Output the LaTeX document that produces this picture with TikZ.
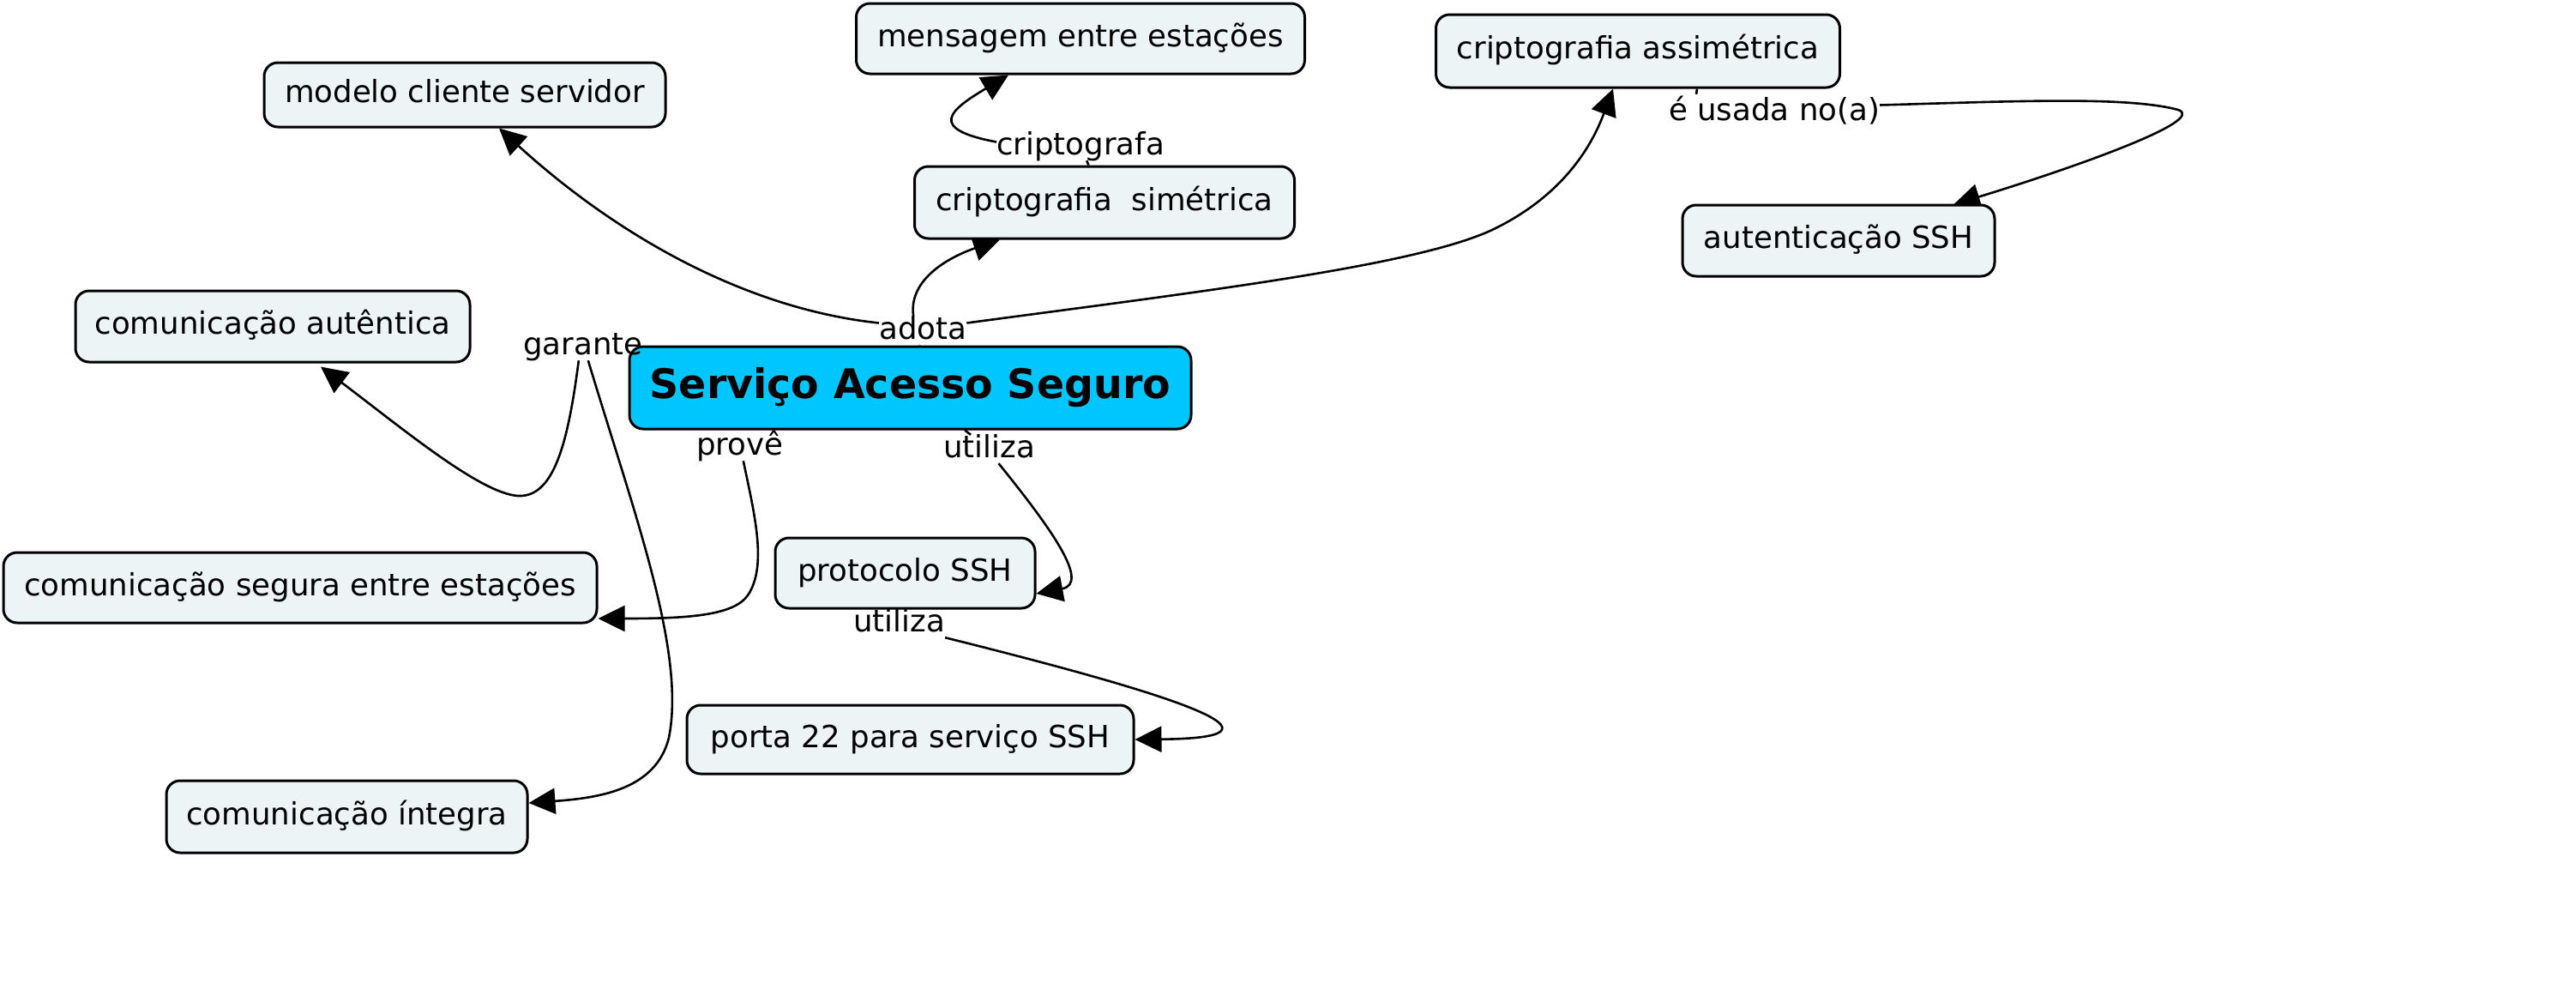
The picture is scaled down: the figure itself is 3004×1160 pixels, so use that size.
\documentclass[tikz,border=0pt]{standalone}
\usepackage{fontspec}
\setmainfont{DejaVu Sans}
\usetikzlibrary{arrows.meta}
\pgfdeclarelayer{background}
\pgfsetlayers{background,main}
\definecolor{conceptfill}{RGB}{237,244,246}
\definecolor{maincyan}{RGB}{0,198,255}
\tikzset{
  concept/.style={draw=black, line width=3pt, rounded corners=16pt, fill=conceptfill,
    inner sep=0pt, font=\fontsize{35.6pt}{42pt}\selectfont, text height=26pt, text depth=8pt},
  mainconcept/.style={concept, fill=maincyan, font=\fontsize{47.5pt}{56pt}\selectfont\bfseries,
    text height=35pt, text depth=10pt},
  linkphrase/.style={inner sep=0pt, font=\fontsize{35.6pt}{42pt}\selectfont,
    text height=26pt, text depth=7pt, anchor=base west},
  conn/.style={line width=2.6pt, -{Triangle[length=31pt,width=30pt]}},
  stub/.style={line width=2.6pt},
}
\begin{document}
\begin{tikzpicture}[x=1pt,y=-1pt]
\useasboundingbox (0,0) rectangle (3004,1160);
% concepts
\node[concept, minimum width=468pt, minimum height=75pt] (modelo) at (542,110.5) {modelo cliente servidor};
\node[concept, minimum width=523pt, minimum height=82pt] (mens) at (1260,45) {mensagem entre estações};
\node[concept, minimum width=471pt, minimum height=85pt] (assim) at (1910,59.5) {criptografia assimétrica};
\node[concept, minimum width=443pt, minimum height=84pt] (sim) at (1288,236) {criptografia~~simétrica};
\node[concept, minimum width=364pt, minimum height=83pt] (auth) at (2144,280.5) {autenticação SSH};
\node[concept, minimum width=460pt, minimum height=83pt] (aut) at (318,380.5) {comunicação autêntica};
\node[mainconcept, minimum width=655pt, minimum height=96pt] (serv) at (1061.5,452) {Serviço Acesso Seguro};
\node[concept, minimum width=692pt, minimum height=82pt] (seg) at (350,685) {comunicação segura entre estações};
\node[concept, minimum width=303pt, minimum height=82pt] (prot) at (1055.5,668) {protocolo SSH};
\node[concept, minimum width=521pt, minimum height=80pt] (porta) at (1061.5,862) {porta 22 para serviço SSH};
\node[concept, minimum width=421pt, minimum height=84pt] (integ) at (404.5,952) {comunicação íntegra};
% linking phrases
\node[linkphrase] (adota) at (1025,395) {adota};
\node[linkphrase] (cripto) at (1162,180) {criptografa};
\node[linkphrase] (usada) at (1946,140) {é usada no(a)};
\node[linkphrase] (garante) at (610,413) {garante};
\node[linkphrase] (prove) at (812,530) {provê};
\node[linkphrase] (util) at (1100,533) {utiliza};
\node[linkphrase] (util2) at (995,736) {utiliza};
\begin{pgfonlayer}{background}
% short links from concepts to phrases
\draw[stub] (serv) -- (adota);
\draw[stub] (sim) -- (cripto);
\draw[stub] ([xshift=69pt]assim.south) -- ([xshift=-91pt,yshift=4pt]usada.north);
\draw[stub] (serv) -- (util);
% arrows
\draw[conn] ([yshift=9pt]adota.west) .. controls (870,360) and (720,275) .. ([xshift=40pt]modelo.south);
\draw[conn] ([xshift=-11pt]adota.north) .. controls (1058,320) and (1120,295) .. ([xshift=-122pt]sim.south);
\draw[conn] ([yshift=9pt]adota.east) .. controls (1400,340) and (1650,310) .. (1740,268) .. controls (1830,225) and (1860,160) .. ([xshift=-29pt]assim.south);
\draw[conn] ([yshift=5pt]cripto.west) .. controls (1080,150) and (1108,128) .. ([xshift=-84pt]mens.south);
\draw[conn] ([yshift=8pt]usada.east) .. controls (2350,118) and (2480,112) .. (2540,128) .. controls (2575,140) and (2420,195) .. ([xshift=134pt,yshift=-1pt]auth.north);
\draw[conn] ([xshift=-5pt]garante.south) .. controls (662,520) and (645,580) .. (604,578) .. controls (560,575) and (470,500) .. ([xshift=56pt,yshift=-4pt]aut.south);
\draw[conn] ([xshift=6pt]garante.south) .. controls (740,600) and (800,760) .. (780,860) .. controls (765,920) and (700,930) .. ([yshift=16pt]integ.east);
\draw[conn] ([xshift=4pt]prove.south) .. controls (880,600) and (895,660) .. (872,694) .. controls (855,718) and (800,721) .. ([yshift=-36pt]seg.east);
\draw[conn] ([xshift=11pt]util.south) .. controls (1225,615) and (1272,680) .. ([yshift=-24pt]prot.east);
\draw[conn] (util2.south east) .. controls (1330,800) and (1540,860) .. (porta.east);
\end{pgfonlayer}
\end{tikzpicture}
\end{document}
